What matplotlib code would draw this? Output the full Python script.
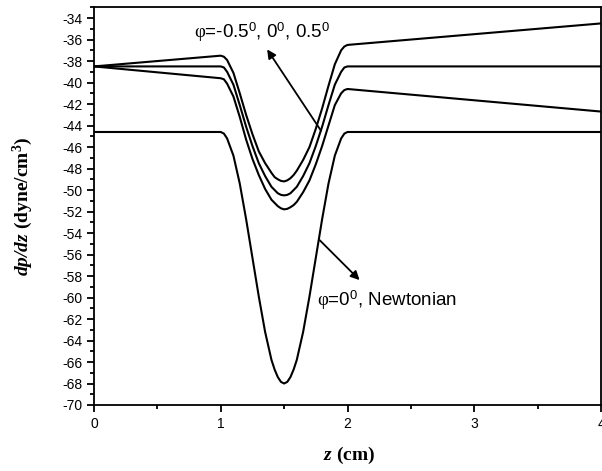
import numpy as np
import matplotlib
matplotlib.use("Agg")
import matplotlib.pyplot as plt
from matplotlib.ticker import MultipleLocator

plt.rcParams['font.family'] = ['Liberation Sans', 'DejaVu Sans']
plt.rcParams['axes.unicode_minus'] = False
plt.rcParams['mathtext.fontset'] = 'custom'
plt.rcParams['mathtext.rm'] = 'Liberation Serif'
plt.rcParams['mathtext.sf'] = 'Liberation Sans'
plt.rcParams['mathtext.bf'] = 'Liberation Serif:bold'
plt.rcParams['mathtext.bfit'] = 'Liberation Serif:italic:bold'
plt.rcParams['mathtext.it'] = 'Liberation Serif:italic'

# axial distance z (cm) - stenosis sits between z=1 and z=2
z = [0.0, 1.0, 1.025, 1.05, 1.1, 1.15, 1.2, 1.25, 1.3, 1.35, 1.4, 1.425, 1.45, 1.475, 1.5,
     1.525, 1.55, 1.575, 1.6, 1.65, 1.7, 1.75, 1.8, 1.85, 1.9, 1.95, 1.975, 2.0, 4.0]

# pressure gradient dp/dz (dyne/cm^3)
phi_neg = [-38.5, -37.5, -37.6, -37.9, -39.1, -41.0, -43.0, -44.8, -46.4, -47.5, -48.4, -48.8, -49.0, -49.15, -49.2,
           -49.1, -48.9, -48.6, -48.2, -47.2, -46.0, -44.3, -42.4, -40.3, -38.3, -37.0, -36.65, -36.5, -34.5]
phi_zero = [-38.5, -38.5, -38.6, -39.0, -40.2, -42.1, -44.1, -45.9, -47.5, -48.7, -49.7, -50.0, -50.3, -50.45, -50.5,
            -50.45, -50.3, -50.0, -49.7, -48.7, -47.5, -45.9, -44.1, -42.1, -40.2, -39.0, -38.6, -38.5, -38.5]
phi_pos = [-38.5, -39.6, -39.7, -40.1, -41.3, -43.2, -45.3, -47.1, -48.6, -49.9, -50.9, -51.2, -51.5, -51.7, -51.8,
           -51.75, -51.6, -51.4, -51.1, -50.2, -49.1, -47.6, -45.9, -44.0, -42.1, -41.0, -40.7, -40.6, -42.7]
newtonian = [-44.6, -44.6, -44.75, -45.2, -46.8, -49.4, -52.7, -56.3, -59.9, -63.2, -65.8, -66.7, -67.4, -67.85, -68.0,
             -67.85, -67.4, -66.7, -65.8, -63.2, -59.9, -56.3, -52.7, -49.4, -46.8, -45.2, -44.75, -44.6, -44.6]

fig = plt.figure(figsize=(6.02, 4.71), dpi=100)
ax = fig.add_axes([94 / 602, 1 - 405 / 471, 507 / 602, 397.7 / 471])

for ys in [phi_neg, phi_zero, phi_pos, newtonian]:
    ax.plot(z, ys, color='black', lw=1.5, solid_joinstyle='round')

ax.set_xlim(0, 4)
ax.set_ylim(-70, -33)
ax.xaxis.set_major_locator(MultipleLocator(1))
ax.xaxis.set_minor_locator(MultipleLocator(0.5))
ax.set_yticks(np.arange(-70, -33, 2))
ax.yaxis.set_minor_locator(MultipleLocator(1))
ax.tick_params(which='both', direction='out', width=1.3, labelsize=10, top=False, right=False)
ax.tick_params(which='major', length=5)
ax.tick_params(which='minor', length=3)
for sp in ax.spines.values():
    sp.set_linewidth(1.3)

# annotations
ax.annotate('', xy=(1.354, -36.7), xytext=(1.803, -44.7),
            arrowprops=dict(arrowstyle='-|>', color='black', lw=1.3, mutation_scale=13))
ax.text(0.787, -35.86, r'$\mathrm{φ}$=-0.5$^{\mathsf{0}}$, 0$^{\mathsf{0}}$, 0.5$^{\mathsf{0}}$',
        fontsize=13.5, va='baseline', ha='left')
ax.annotate('', xy=(2.111, -58.56), xytext=(1.764, -54.47),
            arrowprops=dict(arrowstyle='-|>', color='black', lw=1.3, mutation_scale=13))
ax.text(1.756, -60.8, r'$\mathrm{φ}$=0$^{\mathsf{0}}$, Newtonian',
        fontsize=13.5, va='baseline', ha='left')

fig.text(349 / 602, 1 - 455 / 471, r'$\mathbfit{z}$ (cm)', family='Liberation Serif',
         weight='bold', fontsize=14, ha='center', va='center')
fig.text(23 / 602, 1 - 206 / 471, r'$\mathbfit{dp/dz}$ (dyne/cm$^{\mathbf{3}}$)', family='Liberation Serif',
         weight='bold', fontsize=14, ha='center', va='center', rotation=90)

fig.savefig('out.png', dpi=100)
